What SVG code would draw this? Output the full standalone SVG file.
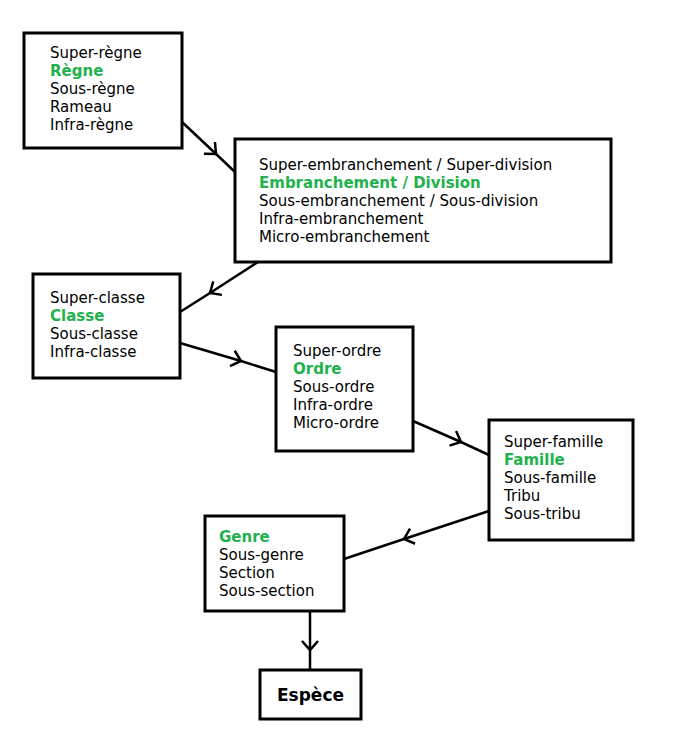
<svg xmlns="http://www.w3.org/2000/svg" width="682" height="745" viewBox="0 0 682 745">
<style>
.box{fill:#fff;stroke:#000;stroke-width:3}
text{font-family:"DejaVu Sans",Verdana,sans-serif;font-size:15px;fill:#000}
.g{fill:#22b14c;font-weight:bold}
.c{fill:none;stroke:#000;stroke-width:2.5}
</style>
<defs>
<marker id="a" markerUnits="userSpaceOnUse" markerWidth="20" markerHeight="20" refX="10" refY="10" orient="auto" overflow="visible">
<path d="M1,2 L10,10 L1,18" fill="none" stroke="#000" stroke-width="2.5"/>
</marker>
</defs>
<rect width="682" height="745" fill="#fff"/>
<g id="connectors">
<polyline class="c" points="182,122 216,154 235,172" marker-mid="url(#a)"/>
<polyline class="c" points="258,262 210,293 180,312" marker-mid="url(#a)"/>
<polyline class="c" points="180,343 241,361 276,372" marker-mid="url(#a)"/>
<polyline class="c" points="413,421 461,442 489,455" marker-mid="url(#a)"/>
<polyline class="c" points="489,511 404,539 344,559" marker-mid="url(#a)"/>
<polyline class="c" points="310,611 310,650 310,670" marker-mid="url(#a)"/>
</g>
<g id="regne"><rect class="box" x="24" y="33" width="158" height="115"/>
<text x="50" y="58">Super-règne</text><text x="50" y="76" class="g">Règne</text><text x="50" y="94">Sous-règne</text><text x="50" y="112">Rameau</text><text x="50" y="130">Infra-règne</text></g>
<g id="embranchement"><rect class="box" x="235" y="139" width="376" height="123"/>
<text x="259" y="170">Super-embranchement / Super-division</text><text x="259" y="188" class="g">Embranchement / Division</text><text x="259" y="206">Sous-embranchement / Sous-division</text><text x="259" y="224">Infra-embranchement</text><text x="259" y="242">Micro-embranchement</text></g>
<g id="classe"><rect class="box" x="33" y="274" width="147" height="104"/>
<text x="50" y="303">Super-classe</text><text x="50" y="321" class="g">Classe</text><text x="50" y="339">Sous-classe</text><text x="50" y="357">Infra-classe</text></g>
<g id="ordre"><rect class="box" x="276" y="327" width="137" height="124"/>
<text x="293" y="356">Super-ordre</text><text x="293" y="374" class="g">Ordre</text><text x="293" y="392">Sous-ordre</text><text x="293" y="410">Infra-ordre</text><text x="293" y="428">Micro-ordre</text></g>
<g id="famille"><rect class="box" x="489" y="420" width="144" height="120"/>
<text x="504" y="447">Super-famille</text><text x="504" y="465" class="g">Famille</text><text x="504" y="483">Sous-famille</text><text x="504" y="501">Tribu</text><text x="504" y="519">Sous-tribu</text></g>
<g id="genre"><rect class="box" x="205" y="516" width="139" height="95"/>
<text x="219" y="542" class="g">Genre</text><text x="219" y="560">Sous-genre</text><text x="219" y="578">Section</text><text x="219" y="596">Sous-section</text></g>
<g id="espece"><rect class="box" x="260" y="670" width="101" height="49"/>
<text x="310.5" y="701" text-anchor="middle" style="font-weight:bold;font-size:17px">Espèce</text></g>
</svg>
